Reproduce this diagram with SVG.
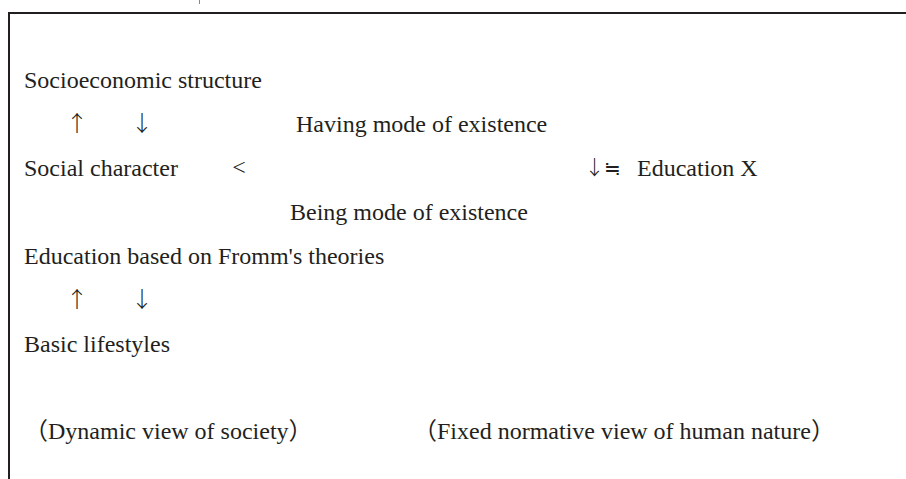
<svg xmlns="http://www.w3.org/2000/svg" width="906" height="479" viewBox="0 0 906 479">
  <style>
    .t { font-family: "Liberation Serif", "Noto Sans CJK JP", serif; font-size: 24px; fill: #231f20; }
    .a { font-family: "Noto Sans CJK JP", "Liberation Serif", sans-serif; font-size: 22px; fill: #231f20; text-anchor: middle; font-weight: 300; }
    .m { text-anchor: middle; }
    .frame { fill: none; stroke: #231f20; stroke-width: 2; }
  </style>
  <rect x="0" y="0" width="906" height="479" fill="#ffffff"/>
  <g id="frame">
    <path class="frame" d="M9,479 V13 H906"/>
    <line x1="199.5" y1="0" x2="199.5" y2="4" stroke="#888" stroke-width="1"/>
  </g>
  <g id="socioeconomic">
    <text class="t" x="24" y="88">Socioeconomic structure</text>
  </g>
  <g id="connectors">
    <text class="a" x="77" y="131">↑</text>
    <text class="a" x="142" y="131">↓</text>
    <text class="t m" x="239" y="175">&lt;</text>
    <text class="a" x="77" y="307">↑</text>
    <text class="a" x="142" y="307">↓</text>
  </g>
  <g id="having">
    <text class="t" x="296" y="132">Having mode of existence</text>
  </g>
  <g id="social-character">
    <text class="t" x="24" y="176">Social character</text>
  </g>
  <g id="education-x">
    <text class="a" x="603" y="175" style="font-size:20px">↓≒</text>
    <text class="t" x="637" y="176">Education X</text>
  </g>
  <g id="being">
    <text class="t" x="290" y="220">Being mode of existence</text>
  </g>
  <g id="education-fromm">
    <text class="t" x="24" y="264">Education based on Fromm's theories</text>
  </g>
  <g id="basic-lifestyles">
    <text class="t" x="24" y="352">Basic lifestyles</text>
  </g>
  <g id="dynamic-view">
    <text class="t" x="24" y="439">（Dynamic view of society）</text>
  </g>
  <g id="fixed-view">
    <text class="t" x="413" y="439">（Fixed normative view of human nature）</text>
  </g>
</svg>
